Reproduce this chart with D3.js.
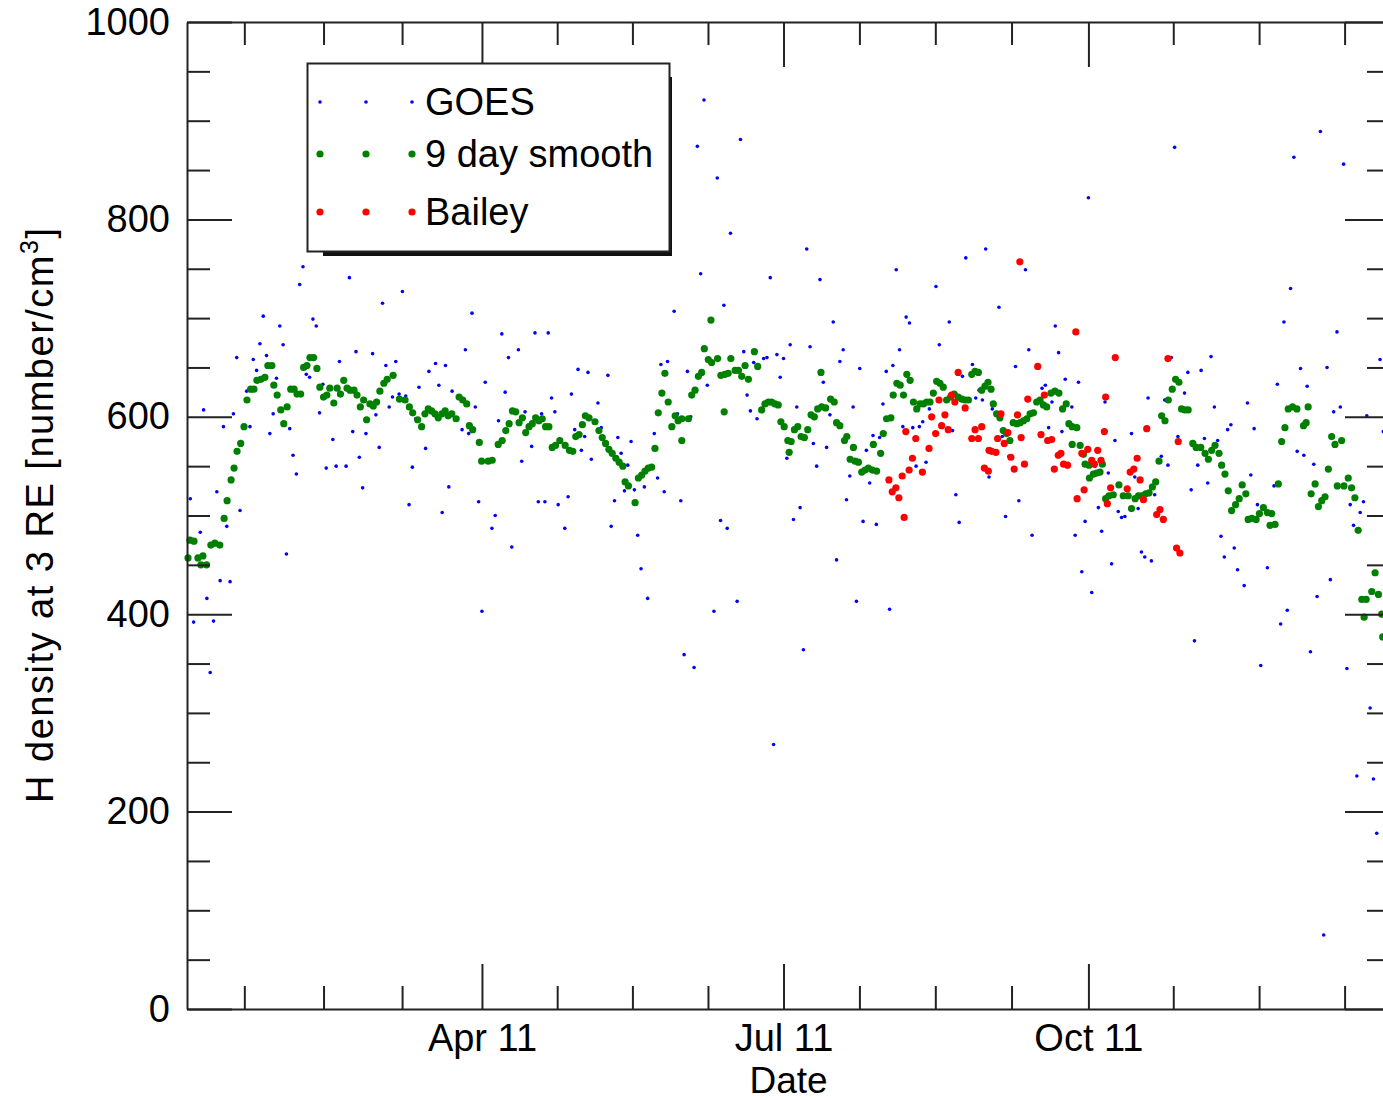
<!DOCTYPE html>
<html><head><meta charset="utf-8">
<script src="https://cdn.jsdelivr.net/npm/d3@7"></script>
<style>body{margin:0;background:#fff}svg{display:block}</style>
</head><body><svg id="chart" width="1383" height="1100"></svg>
<script>
// ---- data (day of year, Jan 1 = 0) ----
const goesDay = [12,13,15,16,17,18,19,20,21,22,23,24,25,26,27,29,30,31,32,33,34,35,36,37,38,39,40,41,42,43,44,45,46,47,48,49,50,51,52,53,55,56,57,59,60,61,62,63,64,65,67,68,69,70,71,72,73,74,75,76,77,78,79,80,81,83,84,86,87,88,89,90,91,94,95,96,97,98,99,100,101,103,104,105,106,107,108,109,111,112,113,115,116,117,118,119,120,121,122,123,125,126,127,128,129,130,131,132,133,135,136,138,139,140,141,142,143,144,145,146,147,148,149,150,152,153,154,155,156,158,159,160,161,162,163,164,165,166,167,168,170,171,172,173,174,175,177,178,179,180,181,182,183,185,186,187,188,189,190,191,192,193,194,195,196,197,198,199,200,201,202,203,204,205,206,207,208,209,210,211,212,213,214,215,216,217,218,219,220,221,222,223,224,225,226,227,228,229,230,231,232,233,234,235,237,238,241,242,243,244,245,246,248,249,250,251,252,253,254,256,257,258,259,261,262,264,265,266,269,270,271,272,273,274,275,276,278,279,280,281,282,283,284,285,286,287,288,289,290,291,292,293,294,296,297,298,299,300,301,302,303,305,306,307,308,309,310,312,313,314,315,316,317,318,319,320,321,322,323,324,325,326,327,328,330,331,332,333,334,335,337,339,340,341,342,343,344,345,346,347,348,349,350,351,352,353,354,355,356,357,358,359,360,361,362,363,364,365,366,367,368,369,370,371,372];
const goesVal = [517,392,483,607,416,341,393,524,434,590,489,433,603,660,505,626,590,658,647,674,702,662,583,603,639,692,673,461,588,561,542,734,752,643,640,699,692,604,633,548,577,550,656,550,741,585,666,559,528,583,664,602,569,715,652,610,620,656,623,727,621,511,549,598,630,568,646,654,632,503,652,529,626,587,668,583,705,610,514,403,635,487,500,596,684,625,660,468,668,555,605,570,685,514,603,514,685,619,605,511,487,519,623,587,648,566,580,645,557,614,589,642,489,515,579,563,525,551,575,526,480,446,529,416,583,538,653,524,656,707,603,515,359,646,600,346,874,745,921,632,403,842,495,713,487,786,413,881,666,622,606,655,598,659,660,741,268,663,640,659,558,673,496,610,508,364,770,671,573,550,739,635,569,602,696,455,656,668,516,540,610,413,649,494,566,533,581,491,579,613,646,405,652,749,668,590,701,695,589,550,590,595,554,608,732,673,696,586,521,493,641,761,653,619,627,617,770,539,608,711,580,499,560,651,515,749,668,480,629,632,589,615,692,665,585,638,610,480,635,443,494,822,422,550,508,484,615,543,451,576,504,498,499,583,539,507,463,458,619,454,521,560,617,551,660,873,580,624,645,526,373,551,647,578,533,661,610,576,479,458,587,592,467,445,429,614,541,588,511,348,447,530,633,390,696,404,730,863,565,649,561,631,362,552,418,889,75,650,435,605,686,610,856,345,511,490,236,503,514,601,305,233,178,658,585];

const smoothDay = [11.3,11.9,13.1,14.3,15.2,15.8,16.9,18.2,19.4,20.9,22.2,23.1,24.3,25.2,26.1,27.2,28.2,29.1,30.2,31.2,32.1,33.3,34.5,35.4,36.6,37.2,38.2,39.3,40.2,41.2,42.3,43.3,44.2,45.3,46.2,47.2,48.1,49.2,50.2,51.1,52.2,53.2,54.1,55.3,56.3,57.3,58.3,59.3,60.2,61.4,62.3,63.3,64.3,65.2,66.2,67.2,68.2,69.2,70.4,71.4,73.2,75.1,76.8,78.1,79.1,80.6,81.8,82.8,83.8,84.8,85.8,86.8,87.9,88.9,89.8,90.9,92.2,93.1,94.2,95.4,96.2,97.2,99.2,99.9,101.9,103.1,104.9,106.1,107.2,108.2,109.2,110.2,111.2,112.2,113.2,114.2,115.2,116.2,117.2,118.2,119.2,120.2,121.2,122.2,123.5,125.1,126.4,127.4,128.3,129.3,130.3,131.2,132.3,134.1,135.3,136.3,137.3,138.3,139.3,140.4,141.4,142.5,143.2,144.2,146.2,147.2,148.2,149.2,150.2,151.2,152.2,153.2,154.3,155.2,156.2,157.3,158.3,159.2,160.3,160.3,162.3,163.3,164.3,165.3,166.3,167.1,168.3,169.1,169.3,171.1,172.1,173.1,173.3,174.3,175.1,176.4,177.4,178.4,179.4,180.4,182.2,183.2,184.4,185.4,186.4,187.4,188.4,189.4,190.2,191.2,192.3,192.7,193.3,194.3,195.3,196.3,197.3,198.3,199.3,200.3,201.3,202.3,202.5,203.7,205.2,206.3,207.0,208.0,209.4,210.1,211.1,212.1,212.6,213.6,214.6,215.6,216.6,217.8,218.1,219.1,220.3,221.1,222.1,223.4,224.1,225.2,226.2,227.2,228.2,229.2,230.2,231.2,232.2,233.2,234.2,235.2,236.2,237.2,238.2,239.2,240.2,241.4,242.5,243.7,244.8,245.8,246.8,247.8,248.8,249.8,250.8,251.8,252.7,253.6,254.3,255.3,256.3,257.3,258.3,259.3,260.3,261.4,262.4,263.4,264.4,265.4,266.4,267.4,268.4,269.4,270.4,271.7,272.9,274.1,275.2,276.3,277.1,278.1,278.1,279.5,280.5,281.5,282.0,283.2,283.3,284.5,285.5,286.5,287.2,288.2,289.2,290.5,292.2,293.5,295.0,296.0,297.1,298.1,299.1,300.3,301.3,302.3,303.3,304.3,305.1,306.1,307.1,308.3,309.3,310.3,311.1,312.1,313.1,314.5,315.5,316.9,318.2,319.2,320.2,321.2,322.4,323.2,324.2,325.2,326.2,327.4,328.5,329.4,330.5,331.2,332.3,333.6,334.6,335.8,337.0,337.8,338.3,339.3,340.3,341.3,342.3,343.3,344.6,345.9,347.9,348.7,349.3,350.2,351.4,352.4,353.4,354.4,355.4,356.4,357.4,358.1,359.4,360.1,361.4,362.4,363.4,364.4,365.5,366.2,366.8,368.5,369.5,370.5,371.5,371.8];
const smoothVal = [457,475,474,457,450,459,450,470,472,470,497,515,536,548,565,573,590,617,628,628,637,638,640,652,652,632,622,607,593,610,628,628,623,623,650,652,660,660,649,630,620,622,629,614,629,623,637,629,627,627,622,610,617,597,613,611,615,626,634,638,642,618,617,610,604,597,590,603,608,606,603,599,603,606,601,603,598,620,617,613,591,587,574,555,555,556,572,576,586,593,606,605,594,599,584,590,593,599,596,598,590,590,569,571,576,571,566,565,580,582,592,601,599,595,586,579,573,567,563,558,554,550,534,530,513,538,541,545,548,549,568,604,624,644,615,590,601,596,598,576,598,622,627,641,645,669,658,698,655,659,642,605,643,644,659,647,647,641,652,638,666,651,607,613,615,615,613,612,595,590,576,564,575,587,590,580,579,587,602,600,608,645,610,609,618,615,594,591,576,580,557,569,555,554,544,546,548,546,572,545,563,583,598,599,622,634,632,622,643,637,615,608,613,613,615,615,624,636,634,630,617,620,623,620,618,617,617,643,646,645,627,631,635,628,613,603,599,586,583,576,594,593,594,596,598,603,604,615,617,612,610,624,626,624,608,613,593,590,572,589,571,562,552,551,538,542,543,544,552,517,520,521,531,520,520,507,517,520,520,522,523,529,534,555,601,596,617,628,638,635,608,607,607,573,569,569,563,557,566,571,563,551,542,525,505,511,517,531,522,496,497,496,502,508,503,490,502,491,532,575,589,608,610,608,591,594,610,522,532,509,515,519,547,580,572,530,576,530,538,528,518,485,415,397,415,423,442,420,400,377];

const baileyDay = [222.8,223.8,224.9,225.8,226.8,227.4,227.9,228.9,229.9,230.9,232.9,234.9,235.7,236.9,237.9,238.7,239.7,240.7,241.7,242.7,243.7,245.8,247.8,248.8,249.8,250.8,251.6,252.8,253.0,253.8,255.1,255.6,256.6,257.6,258.7,259.6,260.6,261.6,262.3,262.7,263.7,264.7,267.7,268.7,269.7,270.7,271.9,272.7,273.9,274.7,275.5,276.7,279.2,279.6,281.0,281.7,282.8,284.0,284.8,285.8,286.8,287.8,288.2,288.7,289.7,291.1,294.7,295.6,296.7,297.7,298.6,299.6,300.6,303.6,304.6,305.6,307.0,309.6,310.1,310.6];
const baileyVal = [536,524,528,518,540,498,585,546,558,578,544,568,600,583,617,591,602,587,622,615,645,609,578,587,578,590,548,545,566,565,564,578,603,573,584,559,547,602,757,579,552,618,651,582,622,576,577,547,561,563,552,551,686,517,563,526,567,556,552,566,556,585,620,512,528,660,527,544,547,558,536,516,588,501,506,496,659,467,575,462];

const xMajorTickDays = [100, 191, 283];          // Apr 11, Jul 11, Oct 11
const xMinorTickDays = [28.3, 52.2, 75.9, 122.7, 145.4, 168.2, 213.9, 236.8, 259.8, 308.6, 334.5, 360.3];
const yMajorTicks = [0, 200, 400, 600, 800, 1000];
const yMinorTicks = [50,100,150,250,300,350,450,500,550,650,700,750,850,900,950];
const legendLabels = ["GOES", "9 day smooth", "Bailey"];
const seriesColors = ["#0000ff", "#008000", "#ff0000"];

// ---- scales ----
const base = Date.UTC(2013, 0, 1);
const toDate = d => new Date(base + d * 864e5);
const L = 187, R = 1390, T = 22, B = 1009;
const x = d3.scaleUtc().domain([toDate(11), toDate(374)]).range([L, R]);
const y = d3.scaleLinear().domain([0, 1000]).range([B, T]);

const svg = d3.select("#chart");
const FONT = "'Liberation Sans', Arial, Helvetica, sans-serif";
const FS = "38px";
const ink = "#222";

// ---- data marks ----
function dots(days, vals, r, color) {
  svg.append("g").selectAll("circle").data(days.map((d, i) => [d, vals[i]]))
    .join("circle")
    .attr("cx", d => x(toDate(d[0]))).attr("cy", d => y(d[1]))
    .attr("r", r).attr("fill", color);
}
const radii = [1.8, 3.6, 3.6];
dots(goesDay, goesVal, radii[0], seriesColors[0]);
dots(smoothDay, smoothVal, radii[1], seriesColors[1]);
dots(baileyDay, baileyVal, radii[2], seriesColors[2]);

// ---- axes ----
function styleAxis(g) {
  g.selectAll("path, line").attr("stroke", ink).attr("stroke-width", 2);
  g.selectAll("text").attr("fill", "#000").style("font-family", FONT).style("font-size", FS);
}
const fmt = d3.utcFormat("%b %d");
const majDates = xMajorTickDays.map(toDate), minDates = xMinorTickDays.map(toDate);

// bottom
svg.append("g").attr("transform", `translate(0,${B})`)
  .call(d3.axisBottom(x).tickValues(minDates).tickSize(-23).tickSizeOuter(0).tickFormat(""))
  .call(styleAxis);
svg.append("g").attr("transform", `translate(0,${B})`)
  .call(d3.axisBottom(x).tickValues(majDates).tickSize(-45).tickSizeOuter(0).tickPadding(15).tickFormat(fmt))
  .call(styleAxis).call(g => g.select(".domain").remove());
// top
svg.append("g").attr("transform", `translate(0,${T})`)
  .call(d3.axisTop(x).tickValues(minDates).tickSize(-23).tickSizeOuter(0).tickFormat(""))
  .call(styleAxis);
svg.append("g").attr("transform", `translate(0,${T})`)
  .call(d3.axisTop(x).tickValues(majDates).tickSize(-45).tickSizeOuter(0).tickFormat(""))
  .call(styleAxis).call(g => g.select(".domain").remove());
// left
svg.append("g").attr("transform", `translate(${L},0)`)
  .call(d3.axisLeft(y).tickValues(yMinorTicks).tickSize(-23).tickSizeOuter(0).tickFormat(""))
  .call(styleAxis);
svg.append("g").attr("transform", `translate(${L},0)`)
  .call(d3.axisLeft(y).tickValues(yMajorTicks).tickSize(-45).tickSizeOuter(0).tickPadding(17).tickFormat(d3.format("d")))
  .call(styleAxis).call(g => g.select(".domain").remove());
// right
svg.append("g").attr("transform", `translate(${R},0)`)
  .call(d3.axisRight(y).tickValues(yMinorTicks).tickSize(-23).tickSizeOuter(0).tickFormat(""))
  .call(styleAxis);
svg.append("g").attr("transform", `translate(${R},0)`)
  .call(d3.axisRight(y).tickValues(yMajorTicks).tickSize(-45).tickSizeOuter(0).tickFormat(""))
  .call(styleAxis).call(g => g.select(".domain").remove());

// axis titles
svg.append("text").attr("x", (L + R) / 2).attr("y", 1093).attr("text-anchor", "middle")
  .style("font-family", FONT).style("font-size", "37px").text("Date");
const yl = svg.append("text").attr("transform", `translate(53,${(228 + 803) / 2}) rotate(-90)`)
  .attr("text-anchor", "middle").attr("textLength", 575).attr("lengthAdjust", "spacing")
  .style("font-family", FONT).style("font-size", FS);
yl.append("tspan").text("H density at 3 RE [number/cm");
yl.append("tspan").attr("dy", -15).style("font-size", "25px").text("3");
yl.append("tspan").attr("dy", 15).text("]");

// ---- legend ----
const lg = svg.append("g");
lg.append("rect").attr("x", 323).attr("y", 77).attr("width", 349).attr("height", 179).attr("fill", "#111");
lg.append("rect").attr("x", 307.5).attr("y", 63.5).attr("width", 362).attr("height", 188)
  .attr("fill", "#fff").attr("stroke", ink).attr("stroke-width", 2);
const rowsY = [102, 154, 212], symX = [320, 366, 412];
legendLabels.forEach((lab, i) => {
  symX.forEach(sx => lg.append("circle").attr("cx", sx).attr("cy", rowsY[i]).attr("r", radii[i]).attr("fill", seriesColors[i]));
  lg.append("text").attr("x", 425).attr("y", rowsY[i] + 13).style("font-family", FONT).style("font-size", FS).text(lab);
});
</script>
</body></html>
